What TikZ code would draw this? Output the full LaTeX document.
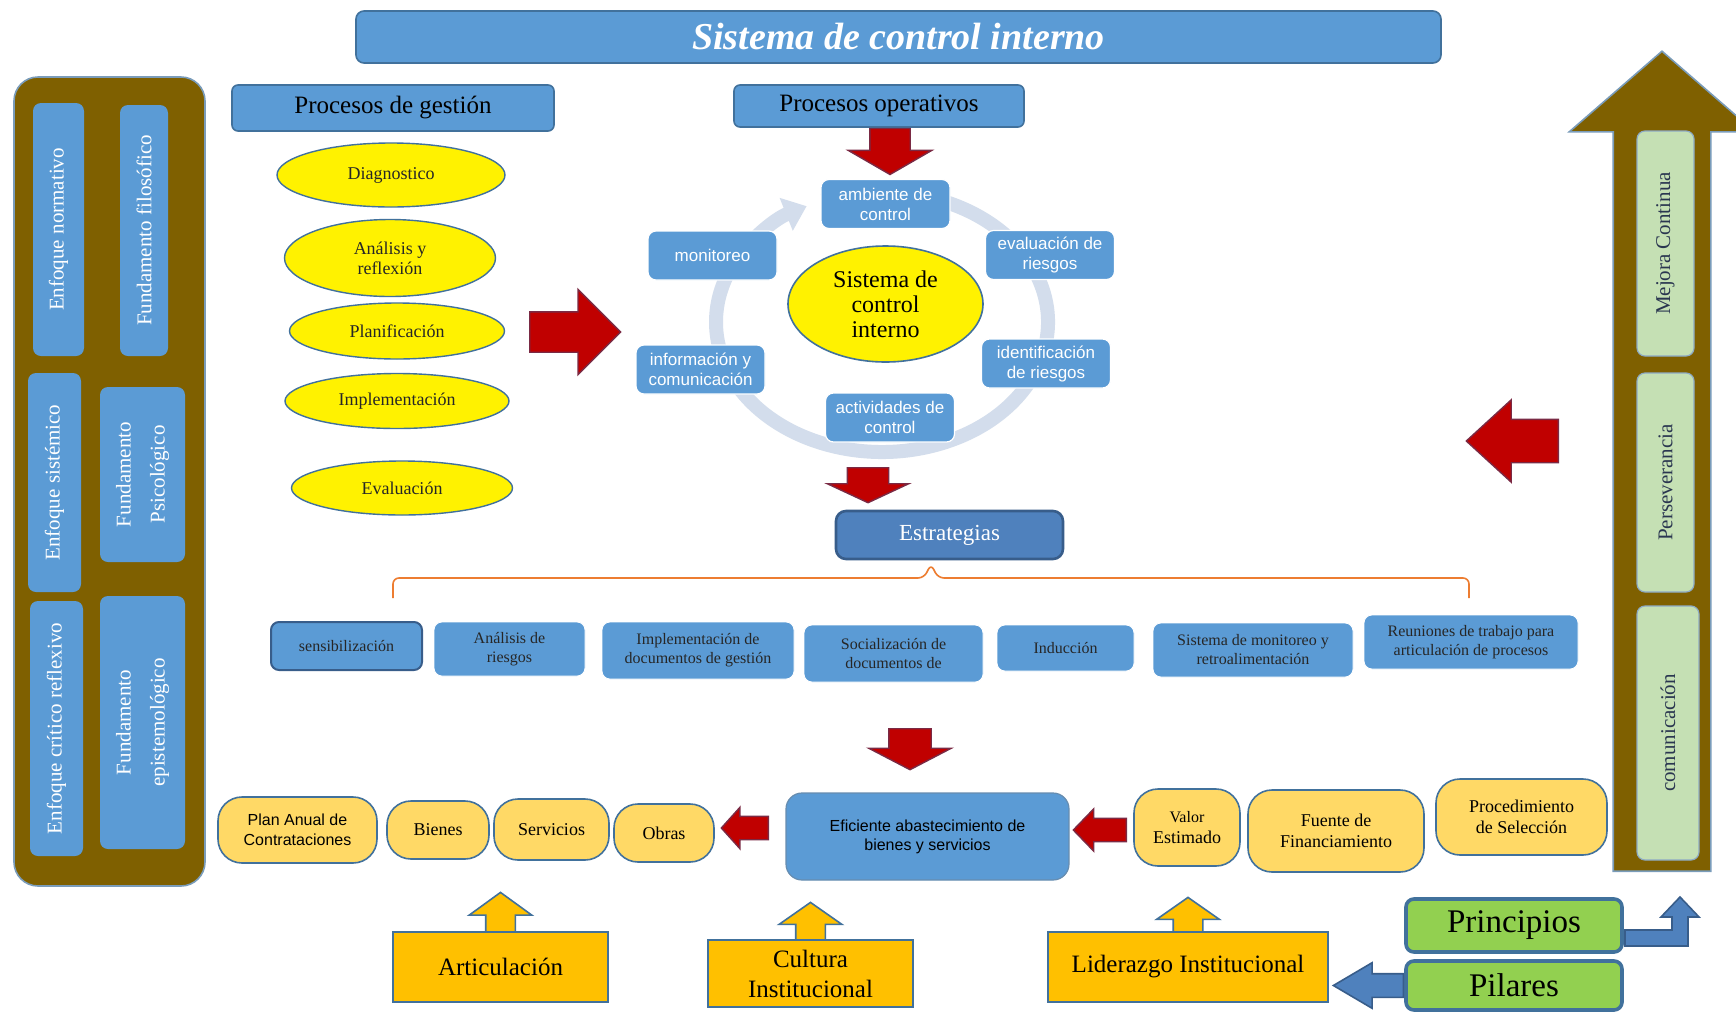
\documentclass[tikz,border=0pt]{standalone}
\usepackage{fontspec}
\setmainfont{Liberation Serif}
\setsansfont{Liberation Sans}
\usetikzlibrary{
  arrows.meta,calc,shapes.geometric,shapes.arrows,backgrounds
}
\definecolor{boxblue}{HTML}{5B9BD5}
\definecolor{boxedge}{HTML}{41719C}
\definecolor{deepblue}{HTML}{4F81BD}
\definecolor{deepedge}{HTML}{385D8A}
\definecolor{olivebrown}{HTML}{7F6000}
\definecolor{pillyellow}{HTML}{FFD966}
\definecolor{baseorange}{HTML}{FFC000}
\definecolor{leafgreen}{HTML}{92D050}
\definecolor{palegreen}{HTML}{C5E0B4}
\definecolor{ringgray}{HTML}{D3DDEC}
\definecolor{arrowred}{HTML}{C00000}
\definecolor{arrowedge}{HTML}{7A2A44}
\definecolor{braceorange}{HTML}{ED7D31}
\definecolor{inkdark}{HTML}{2A3650}
\newcommand\setfs[2]{\fontsize{#1}{#2}\selectfont}
\tikzset{
  titlebar/.style={fill=boxblue, draw=boxedge, line width=0.8pt, rounded corners=4pt,
    text=white, font=\setfs{19}{22}\bfseries\itshape},
  headbox/.style={fill=boxblue, draw=boxedge, line width=0.8pt, rounded corners=3pt,
    text=black, font=\setfs{12.5}{14}},
  % the two side columns
  panel/.style={fill=olivebrown, draw=boxedge!70, line width=0.8pt, rounded corners=12pt},
  pillar/.style={fill=boxblue, rounded corners=4pt, rotate=90, text=white, align=center,
    inner sep=1pt, font=\setfs{10.5}{17}},
  growth/.style={fill=palegreen, draw=boxedge!60, line width=0.6pt, rounded corners=4pt,
    rotate=90, text=inkdark, inner sep=1pt, font=\setfs{10.5}{12}},
  stage/.style={ellipse, fill=yellow, draw=boxedge, line width=0.7pt, inner sep=0pt,
    align=center, text=black!85, font=\setfs{9}{10}},
  % the control cycle
  ring/.style={line width=7pt, color=ringgray},
  component/.style={fill=boxblue, draw=white, line width=0.6pt, rounded corners=4pt,
    inner sep=1pt, minimum width=64.5pt, minimum height=24.5pt, align=center,
    text=white, font=\sffamily\setfs{8.5}{10}},
  core/.style={ellipse, fill=yellow, draw=boxedge, line width=0.8pt, inner sep=0pt,
    align=center, font=\setfs{12}{12.5}},
  hub/.style={fill=deepblue, draw=deepedge, line width=1.3pt, rounded corners=5pt,
    text=white, font=\setfs{11.5}{13}},
  span/.style={line width=0.8pt, color=braceorange, rounded corners=3pt},
  strategy/.style={fill=boxblue, draw=white, rounded corners=4pt, inner sep=1pt,
    align=center, text=black!85, font=\setfs{8}{9.5}},
  pill/.style={fill=pillyellow, draw=boxedge, line width=0.8pt, rounded corners=12pt,
    inner sep=1pt, align=center, font=\setfs{9}{10.5}},
  supply/.style={fill=boxblue, draw=boxedge!80, line width=0.6pt, rounded corners=8pt,
    align=center, font=\sffamily\setfs{8}{9.5}},
  basebox/.style={fill=baseorange, draw=boxedge, line width=0.8pt, align=center,
    font=\setfs{12.5}{15}},
  valuebox/.style={fill=leafgreen, draw=boxedge, line width=1.8pt, rounded corners=4pt,
    font=\setfs{16.5}{18}},
  % block arrows: length / half shaft / head extend / tip angle
  blockarrow/.style n args={4}{single arrow, inner sep=0pt, minimum height=#1,
    inner ysep=#2, single arrow head extend=#3, single arrow tip angle=#4,
    minimum width=2*#2+2*#3},
  redarrow/.style={fill=arrowred, draw=arrowedge, line width=0.7pt},
  bluearrow/.style={fill=deepblue, draw=deepedge, line width=0.8pt},
  upnotch/.style={fill=baseorange, draw=boxedge, line width=0.8pt},
}

\begin{document}
\begin{tikzpicture}[x=0.5pt,y=0.5pt]
  \useasboundingbox (0,0) rectangle (1736,-1013);
  \clip (0,0) rectangle (1736,-1013);
  \begin{scope}[on background layer]
    \fill[white] (0,0) rectangle (1736,-1013);
  \end{scope}

  \node[titlebar, minimum width=542.5pt, minimum height=26pt] (title) at (898.5,-37)
    {Sistema de control interno};

  % left column: approaches and foundations
  \node[panel, minimum width=95.5pt, minimum height=404.5pt] (basepanel) at (109.5,-481.5) {};
  \foreach \n/\x/\y/\len/\th/\t in {
      enfnorm/58.5/229.5/126.5pt/25.5pt/{Enfoque normativo},
      fundfil/144/230.5/125.5pt/24pt/{Fundamento filosófico},
      enfsis/54.5/482.5/109.5pt/26.5pt/{Enfoque sistémico},
      fundpsi/142.5/474.5/87.5pt/42.5pt/{Fundamento\\Psicológico},
      enfcri/56.5/728.5/127.5pt/26.5pt/{Enfoque crítico reflexivo},
      fundepi/142.5/722.5/126.5pt/42.5pt/{Fundamento\\epistemológico}} {
    \node[pillar, minimum width=\len, minimum height=\th] (\n) at (\x,-\y) {\t};
  }

  \node[headbox, minimum width=161pt, minimum height=23pt] (gestion) at (393,-108)
    {Procesos de gestión};
  \node[headbox, minimum width=145pt, minimum height=21pt] (operativos) at (879,-106)
    {Procesos operativos};

  \foreach \n/\x/\y/\w/\h/\t in {
      diag/391/175/114pt/32pt/{Diagnostico},
      analisis/390/258/105.5pt/38.5pt/{Análisis y\\reflexión},
      planif/397/331/107.5pt/28pt/{Planificación},
      implem/397/401/112pt/27.5pt/{Implementación},
      evalua/402/488/110.5pt/27pt/{Evaluación}} {
    \node[stage, minimum width=\w, minimum height=\h] (\n) at (\x,-\y) {\t};
  }

  \node[blockarrow={45.5pt}{9.75pt}{11.25pt}{90}, redarrow, anchor=tail] (toCycle)
    at (529,-332) {};
  \node[blockarrow={23pt}{9.75pt}{10.75pt}{120}, redarrow, rotate=-90, anchor=tail] (opDown)
    at ([xshift=5.5pt]operativos.south) {};

  % cycle ring with its arrow head
  \coordinate (ringc) at (882,-322);
  \draw[ring] (ringc) ++(111:166 and 130)
    arc[start angle=111, end angle=-208, x radius=166, y radius=130];
  \draw[ring, -{Triangle[width=17pt, length=11pt]}] (ringc) ++(152:166 and 130)
    arc[start angle=152, end angle=117, x radius=166, y radius=130];

  \node[core, minimum width=97.5pt, minimum height=58pt] (sci) at (885.5,-304)
    {Sistema de\\control\\interno};
  \foreach \n/\x/\y/\t in {
      ambiente/885.5/204/{ambiente de\\control},
      evaluacion/1050/255/{evaluación de\\riesgos},
      identif/1046/363.5/{identificación\\de riesgos},
      activ/890/417.5/{actividades de\\control},
      inform/700.5/369.5/{información y\\comunicación},
      monit/712.5/255.5/{monitoreo}} {
    \node[component] (\n) at (\x,-\y) {\t};
  }

  \node[blockarrow={17.5pt}{10pt}{10pt}{130}, redarrow, rotate=-90, anchor=tail] (toStrat)
    at (868,-467) {};
  \node[hub, minimum width=113.5pt, minimum height=24pt] (estrategias) at (949.5,-535)
    {Estrategias};

  % bracket over the strategies
  \coordinate (braceL) at (393,-598);
  \coordinate (braceR) at (1469,-598);
  \draw[span] (braceL) -- ++(0,20) -- (924,-578) -- (931,-564) -- (938,-578)
    -- ($(braceR)+(0,20)$) -- (braceR);

  \node[strategy, draw=deepedge, line width=1pt, minimum width=75.5pt, minimum height=24pt]
    (sensib) at (346.5,-646) {sensibilización};
  \foreach \n/\x/\y/\w/\h/\t in {
      riesgos/509.5/649/75.5pt/27pt/{Análisis de\\riesgos},
      docs/698/650.5/96pt/28.5pt/{Implementación de\\documentos de gestión},
      social/893.5/653.5/89.5pt/28.5pt/{Socialización de\\documentos de},
      induccion/1065.5/648/68.5pt/23pt/{Inducción},
      seguimiento/1253/650/100pt/27pt/{Sistema de monitoreo y\\retroalimentación},
      reuniones/1471/642/107pt/27pt/{Reuniones de trabajo para\\articulación de procesos}} {
    \node[strategy, minimum width=\w, minimum height=\h] (\n) at (\x,-\y) {\t};
  }

  \node[blockarrow={20.5pt}{10.25pt}{10pt}{125}, redarrow, rotate=-90, anchor=tail] (toSupply)
    at (910,-728) {};

  % procurement row
  \node[supply, minimum width=141.5pt, minimum height=43.5pt] (eficiente) at (927.5,-836.5)
    {Eficiente abastecimiento de\\bienes y servicios};
  \node[pill, font=\sffamily\setfs{8}{10}, minimum width=79.5pt, minimum height=33pt]
    (plananual) at (297.5,-830) {Plan Anual de\\Contrataciones};
  \foreach \n/\x/\y/\w/\h/\t in {
      bienes/438/830/51pt/29pt/{Bienes},
      servicios/551.5/829.5/57.5pt/30.5pt/{Servicios},
      obras/664/833/50pt/29pt/{Obras},
      valor/1187/827.5/53pt/38.5pt/{\setfs{8}{9.5}Valor\\Estimado},
      fuente/1336/831/88pt/41pt/{Fuente de\\Financiamiento},
      proced/1521.5/817/85.5pt/38pt/{Procedimiento\\de Selección}} {
    \node[pill, minimum width=\w, minimum height=\h] (\n) at (\x,-\y) {\t};
  }
  \node[blockarrow={23.5pt}{5.5pt}{4.5pt}{96}, redarrow, rotate=180, anchor=tail] (toObras)
    at (769,-828) {};
  \node[blockarrow={26.5pt}{5.5pt}{4.75pt}{92}, redarrow, rotate=180, anchor=tail] (toEficiente)
    at (1127,-830) {};

  % right column: the rising arrow
  \node[blockarrow={410pt}{24pt}{22pt}{98}, fill=olivebrown, draw=boxedge!70, line width=0.8pt,
    rotate=90, anchor=tail] (mejoraArrow) at (1662,-872) {};
  \node[growth, minimum width=112.5pt, minimum height=28.5pt] (mejora) at (1665.5,-243.5)
    {Mejora Continua};
  \node[growth, minimum width=109.5pt, minimum height=28.5pt] (persev) at (1665.5,-482.5)
    {Perseverancia};
  \node[growth, minimum width=127pt, minimum height=31pt] (comunic) at (1668,-733)
    {comunicación};
  \node[blockarrow={46pt}{10.5pt}{9.75pt}{85}, redarrow, rotate=180, anchor=tail] (fromRight)
    at (1559,-441) {};

  % base: articulation, culture, leadership
  \node[basebox, minimum width=107.5pt, minimum height=35pt] (artic) at (500.5,-967)
    {Articulación};
  \node[basebox, minimum width=102.5pt, minimum height=33.5pt] (cultura) at (810.5,-973.5)
    {Cultura\\Institucional};
  \node[basebox, minimum width=140pt, minimum height=35pt] (lider) at (1188,-967)
    {Liderazgo Institucional};
  \begin{scope}[on background layer]
    \node[blockarrow={22pt}{7pt}{8.25pt}{108}, upnotch, rotate=90, anchor=tail] (articUp)
      at ([yshift=-3pt]artic.north) {};
    \node[blockarrow={21pt}{7pt}{8.25pt}{110}, upnotch, rotate=90, anchor=tail] (culturaUp)
      at ([yshift=-3pt]cultura.north) {};
    \node[blockarrow={19.5pt}{7pt}{8.25pt}{110}, upnotch, rotate=90, anchor=tail] (liderUp)
      at ([yshift=-3pt]lider.north) {};
  \end{scope}

  \node[valuebox, minimum width=108pt, minimum height=26.5pt] (principios) at (1514,-925.5)
    {Principios};
  \node[valuebox, minimum width=108pt, minimum height=24.5pt] (pilares) at (1514,-985.5)
    {Pilares};
  \node[blockarrow={35pt}{5.5pt}{5.5pt}{61}, bluearrow, rotate=180, anchor=tail] (pilaresArrow)
    at (pilares.west) {};
  \draw[bluearrow] (1625,-946) -- (1688,-946) -- (1688,-917) -- (1699,-917) -- (1680,-897)
    -- (1661,-917) -- (1672,-917) -- (1672,-930) -- (1625,-930) -- cycle;
\end{tikzpicture}
\end{document}
